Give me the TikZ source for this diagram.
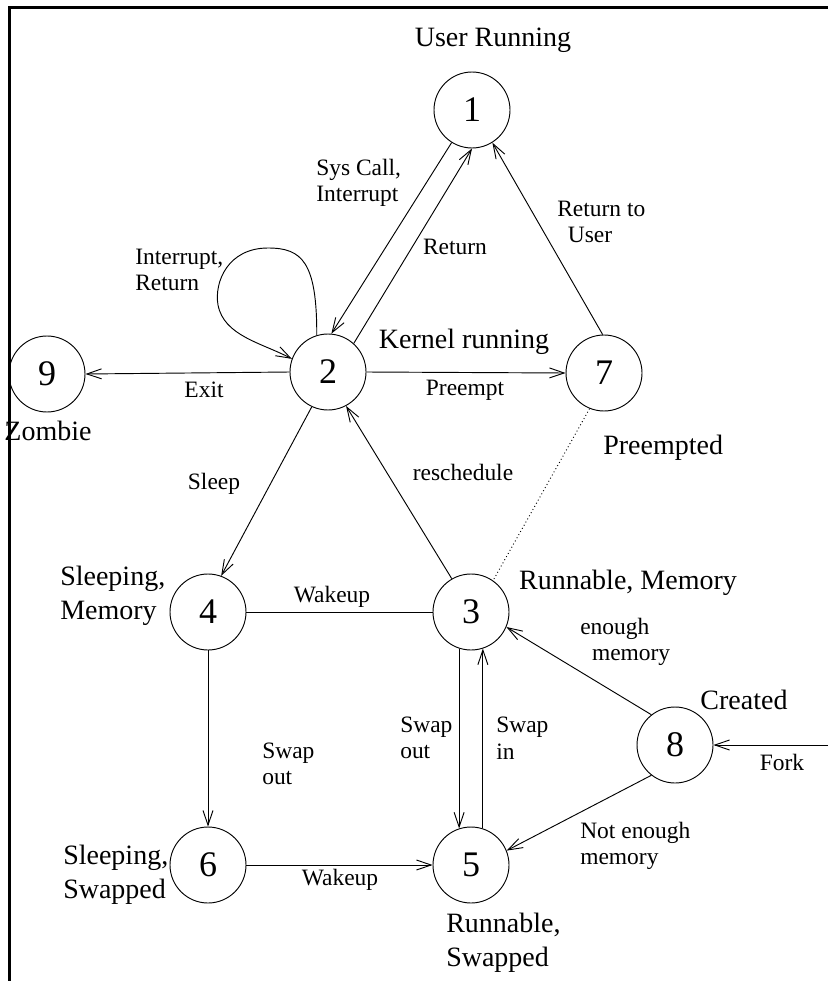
\documentclass[tikz,border=0pt]{standalone}
\usepackage{fontspec}
\setmainfont{Liberation Serif}
\usetikzlibrary{arrows.meta}
\begin{document}
\begin{tikzpicture}[x=0.75pt,y=-0.75pt,
  st/.style={circle,draw,line width=0.7pt,minimum size=57pt,inner sep=0pt,font=\fontsize{27}{30}\selectfont},
  slab/.style={font=\fontsize{21}{25.5}\selectfont,inner sep=0pt},
  elab/.style={font=\fontsize{17.6}{20}\selectfont,inner sep=0pt},
  edge/.style={line width=0.7pt,-{Straight Barb[length=11pt,width=7.5pt]}},
  line/.style={line width=0.7pt}]
\useasboundingbox (0,0) rectangle (828,981);
% frame
\draw[line width=2.4pt] (9.5,981) -- (9.5,7.5) -- (828,7.5);
% states
\node[st] (n1) at (472,110) {1};
\node[st] (n2) at (328,372) {2};
\node[st] (n7) at (604,373) {7};
\node[st] (n9) at (47,374) {9};
\node[st] (n4) at (208,612) {4};
\node[st] (n3) at (471,612) {3};
\node[st] (n8) at (675,745) {8};
\node[st] (n6) at (208,865) {6};
\node[st] (n5) at (471,865) {5};
\coordinate (fork) at (828,745);
% state labels
\node[slab] (l1) at (493,40) {User Running};
\node[slab] (l2) at (464,342) {Kernel running};
\node[slab] (l9) at (48,431) {Zombie};
\node[slab,anchor=west] (l7) at (603,448) {Preempted};
\node[slab,align=left,anchor=west] (l4) at (60,596) {Sleeping,\\Memory};
\node[slab] (l3) at (628,583) {Runnable, Memory};
\node[slab] (l8) at (744,700) {Created};
\node[slab,align=left,anchor=west] (l6) at (63,875) {Sleeping,\\Swapped};
\node[slab,align=left,anchor=west] (l5) at (446,943) {Runnable,\\Swapped};
% edge labels
\node[elab,align=left,anchor=west] at (316,183) {Sys Call,\\Interrupt};
\node[elab] at (455,247) {Return};
\node[elab,align=left,anchor=west] at (557,222) {Return to\\\hspace*{0.45em}User};
\node[elab,align=left,anchor=west] at (135,270) {Interrupt,\\Return};
\node[elab] at (204,390) {Exit};
\node[elab] at (465,390) {Preempt};
\node[elab] at (214,484) {Sleep};
\node[elab] at (463,472) {reschedule};
\node[elab] at (332,597) {Wakeup};
\node[elab,align=left,anchor=west] at (580,642) {enough\\\hspace*{0.5em}memory};
\node[elab,align=left,anchor=west] at (262,764) {Swap\\out};
\node[elab,align=left,anchor=west] at (400,738) {Swap\\out};
\node[elab,align=left,anchor=west] at (496,738) {Swap\\in};
\node[elab] at (782,762) {Fork};
\node[elab,align=left,anchor=west] at (580,846) {Not enough\\memory};
\node[elab] at (340,880) {Wakeup};
% transitions
\draw[edge] (n1.238) -- (n2.85);
\draw[edge] (n2.48) -- (n1.270);
\draw[edge] (n7.92) -- (n1.302);
\draw[edge] (n2.107) .. controls (317,262) and (302,248) .. (268,248)
  .. controls (228,248) and (214,282) .. (218,305)
  .. controls (224,336) and (262,343) .. (n2.160);
\draw[edge] (n2.west) -- (n9.east);
\draw[edge] (n2.east) -- (n7.west);
\draw[edge] (n2.245) -- (n4.70);
\draw[edge] (n3.120) -- (n2.298);
\draw[line,dotted] (n7.248) -- (n3.55);
\draw[line] (n4.east) -- (n3.west);
\draw[edge] (n4.south) -- (n6.north);
\draw[edge] (n6.east) -- (n5.west);
\draw[edge] (n3.252) -- (n5.108);
\draw[edge] (n5.72) -- (n3.288);
\draw[edge] (n8.128) -- (n3.337);
\draw[edge] (n8.232) -- (n5.22);
\draw[edge] (fork) -- (n8.east);
\end{tikzpicture}
\end{document}
